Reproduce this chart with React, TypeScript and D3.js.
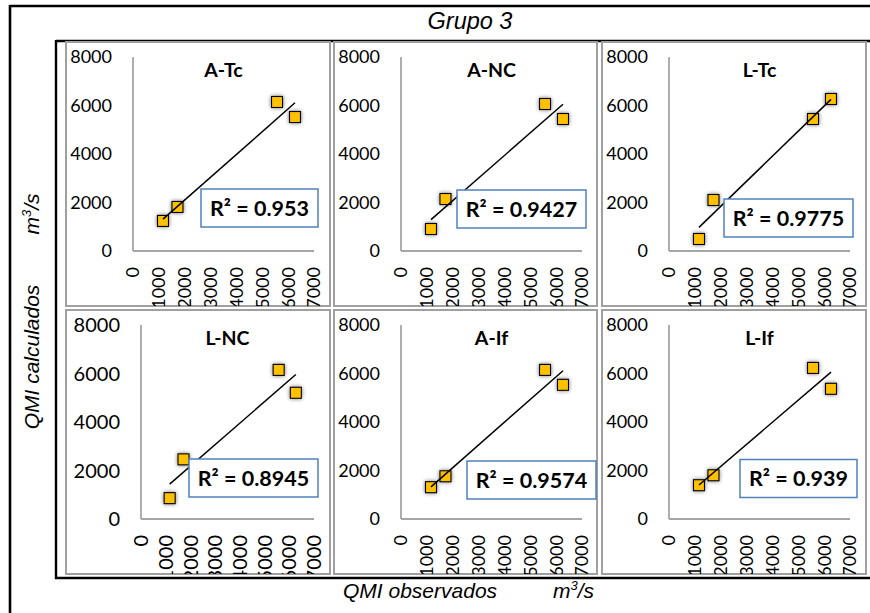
import React from "react";
import * as d3 from "d3";

const panelNames = ["A-Tc", "A-NC", "L-Tc", "L-NC", "A-If", "L-If"];
const observed = [1160, 1720, 5570, 6265];
const calcATc = [1240, 1815, 6145, 5525];
const calcANC = [907, 2144, 6062, 5443];
const calcLTc = [495, 2103, 5443, 6268];
const calcLNC = [860, 2459, 6148, 5205];
const calcAIf = [1311, 1762, 6148, 5533];
const calcLIf = [1393, 1803, 6230, 5369];
const r2Labels = ["0.953", "0.9427", "0.9775", "0.8945", "0.9574", "0.939"];
const xTicks = [0, 1000, 2000, 3000, 4000, 5000, 6000, 7000];
const yTicks = [0, 2000, 4000, 6000, 8000];
const titleText = "Grupo 3";
const yAxisTitle = "QMI calculados";
const xAxisTitle = "QMI observados";
const unitText = "m";

const calcSeries = [calcATc, calcANC, calcLTc, calcLNC, calcAIf, calcLIf];

// layout (positions only)
const colX = [66, 334, 602];
const colW = [264, 263, 264];
const rowY = [42, 310];
const rowH = 264;
// per panel: plot left offset, font size, box right offset, box center offset from plot bottom
const panelLayout = [
  { left: 67, fs: 18, bx: 4, by: -43 },
  { left: 67, fs: 18, bx: 4, by: -42 },
  { left: 67, fs: 18, bx: 3, by: -33 },
  { left: 75, fs: 20, bx: 4, by: -41 },
  { left: 67, fs: 18, bx: 14, by: -39 },
  { left: 67, fs: 18, bx: 7, by: -40.5 },
];

function regression(xs: number[], ys: number[]) {
  const mx = d3.mean(xs) as number;
  const my = d3.mean(ys) as number;
  let sxy = 0, sxx = 0;
  xs.forEach((x, i) => {
    sxy += (x - mx) * (ys[i] - my);
    sxx += (x - mx) * (x - mx);
  });
  const b = sxy / sxx;
  const a = my - b * mx;
  return (x: number) => a + b * x;
}

const PANEL_FONT = "Lato, 'Open Sans', sans-serif";
const OUTER_FONT = "'Liberation Sans', Arial, sans-serif";

function Panel({ idx }: { idx: number }) {
  const col = idx % 3;
  const row = Math.floor(idx / 3);
  const px = colX[col];
  const py = rowY[row];
  const pw = colW[col];
  const lay = panelLayout[idx];
  const x0 = px + lay.left;
  const x1 = px + 248;
  const y0 = py + 15;
  const y1 = py + 209;
  const xs = d3.scaleLinear().domain([0, 7000]).range([x0, x1]);
  const ys = d3.scaleLinear().domain([0, 8000]).range([y1, y0]);
  const ys2 = calcSeries[idx];
  const f = regression(observed, ys2);
  const xmin = d3.min(observed) as number;
  const xmax = d3.max(observed) as number;
  const label = "R² = " + r2Labels[idx];
  const boxW = 57 + 12 * r2Labels[idx].length;
  const boxH = 38;
  const boxRight = x1 + lay.bx;
  const boxCy = y1 + lay.by;
  const clipId = "clip" + idx;
  const ms = 11;
  return (
    <g>
      <defs>
        <clipPath id={clipId}>
          <rect x={px} y={py} width={pw} height={rowH} />
        </clipPath>
      </defs>
      <rect x={px} y={py} width={pw} height={rowH} fill="#fff" stroke="#a0a0a0" strokeWidth={2} />
      <g clipPath={`url(#${clipId})`}>
        <line x1={x0} x2={x0} y1={y0} y2={y1} stroke="#a6a6a6" strokeWidth={1.8} />
        <line x1={x0} x2={x1} y1={y1} y2={y1} stroke="#a6a6a6" strokeWidth={1.8} />
        {yTicks.map((t) => (
          <text key={"y" + t} x={x0 - 21} y={ys(t)} dy="0.36em" textAnchor="end"
            fontFamily={PANEL_FONT} fontSize={lay.fs} fill="#000">{t}</text>
        ))}
        {xTicks.map((t) => (
          <text key={"x" + t} transform={`translate(${xs(t)},${y1 + 16}) rotate(-90)`} dy="0.36em"
            textAnchor="end" fontFamily={PANEL_FONT} fontSize={lay.fs} fill="#000">{t}</text>
        ))}
        <text x={(x0 + x1) / 2} y={y0 + 20} textAnchor="middle" fontFamily={PANEL_FONT}
          fontWeight="bold" fontSize={19.5} fill="#000">{panelNames[idx]}</text>
        {observed.map((x, i) => (
          <rect key={"m" + i} x={xs(x) - ms / 2} y={ys(ys2[i]) - ms / 2} width={ms} height={ms}
            fill="#FFC000" stroke="#000" strokeWidth={1.1} filter="url(#mshadow)" />
        ))}
        <line x1={xs(xmin)} y1={ys(f(xmin))} x2={xs(xmax)} y2={ys(f(xmax))} stroke="#000" strokeWidth={1.5} />
        <rect x={boxRight - boxW} y={boxCy - boxH / 2} width={boxW} height={boxH} fill="#fff"
          stroke="#4F81BD" strokeWidth={1.5} />
        <text x={boxRight - boxW / 2} y={boxCy} dy="0.36em" textAnchor="middle" fontFamily={PANEL_FONT}
          fontWeight="bold" fontSize={21.5} fill="#000">{label}</text>
      </g>
    </g>
  );
}

export default function App() {
  return (
    <svg width={870} height={613} style={{ position: "absolute", left: 0, top: 0, background: "#fff" }}>
      <defs>
        <filter id="mshadow" x="-60%" y="-60%" width="220%" height="220%">
          <feGaussianBlur in="SourceAlpha" stdDeviation={2.2} result="blur" />
          <feComponentTransfer in="blur" result="sh">
            <feFuncA type="linear" slope={0.55} />
          </feComponentTransfer>
          <feMerge>
            <feMergeNode in="sh" />
            <feMergeNode in="SourceGraphic" />
          </feMerge>
        </filter>
      </defs>
      <rect x={0} y={0} width={870} height={613} fill="#fff" />
      <line x1={10} y1={6} x2={870} y2={6} stroke="#000" strokeWidth={2.6} />
      <line x1={10} y1={5} x2={10} y2={613} stroke="#000" strokeWidth={2.6} />
      <text x={470} y={29} textAnchor="middle" fontFamily={OUTER_FONT} fontStyle="italic" fontSize={23.5}
        fill="#000">{titleText}</text>
      <line x1={56} y1={41} x2={870} y2={41} stroke="#000" strokeWidth={2.4} />
      <line x1={56} y1={40} x2={56} y2={579} stroke="#000" strokeWidth={2.4} />
      <line x1={55} y1={578} x2={870} y2={578} stroke="#000" strokeWidth={2.4} />
      {panelNames.map((_, i) => (
        <Panel key={i} idx={i} />
      ))}
      <text transform="translate(39,357) rotate(-90)" textAnchor="middle" fontFamily={OUTER_FONT}
        fontStyle="italic" fontSize={21} fill="#000">{yAxisTitle}</text>
      <text transform="translate(39,214) rotate(-90)" textAnchor="middle" fontFamily={OUTER_FONT}
        fontStyle="italic" fontSize={21} fill="#000">
        {unitText}<tspan dy={-8} fontSize={13}>3</tspan><tspan dy={8}>/s</tspan>
      </text>
      <text x={343} y={598} fontFamily={OUTER_FONT} fontStyle="italic" fontSize={21} fill="#000">{xAxisTitle}</text>
      <text x={553} y={598} fontFamily={OUTER_FONT} fontStyle="italic" fontSize={21} fill="#000">
        {unitText}<tspan dy={-8} fontSize={13}>3</tspan><tspan dy={8}>/s</tspan>
      </text>
    </svg>
  );
}
